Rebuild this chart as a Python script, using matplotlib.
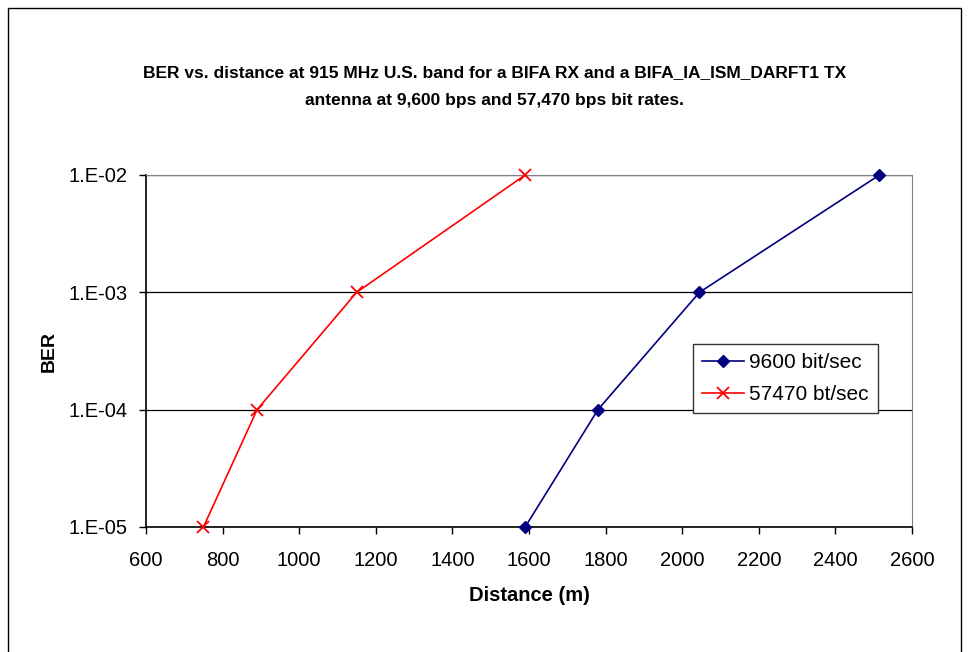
import matplotlib.pyplot as plt
from matplotlib.patches import Rectangle

# BER measurements vs. distance for the two bit rates
ber = [1e-5, 1e-4, 1e-3, 1e-2]
dist_9600 = [1590, 1780, 2045, 2515]
dist_57470 = [750, 890, 1150, 1590]

y_ticks = [1e-5, 1e-4, 1e-3, 1e-2]
y_labels = ['1.E-05', '1.E-04', '1.E-03', '1.E-02']
x_ticks = list(range(600, 2601, 200))

plt.rcParams['font.family'] = ['Liberation Sans', 'DejaVu Sans']

fig = plt.figure(figsize=(9.69, 6.52), dpi=100)
ax = fig.add_axes([146 / 969, 1 - 527 / 652, 766 / 969, 352 / 652])

# chart area frame
fig.patches.append(Rectangle((8 / 969, -0.05), 953 / 969, 1 - 8 / 652 + 0.05,
                             transform=fig.transFigure, fill=False,
                             edgecolor='black', linewidth=1.0))

ax.plot(dist_9600, ber, color='#000080', marker='D', markersize=6,
        linewidth=1.2, label='9600 bit/sec', clip_on=False, zorder=3)
ax.plot(dist_57470, ber, color='#ff0000', marker='x', markersize=8,
        markeredgewidth=1.3, linewidth=1.2, label='57470 bt/sec',
        clip_on=False, zorder=3)

ax.set_yscale('log')
ax.set_ylim(1e-5, 1e-2)
ax.set_xlim(600, 2600)
ax.set_yticks(y_ticks)
ax.set_yticklabels(y_labels)
ax.yaxis.set_minor_locator(plt.NullLocator())
ax.set_xticks(x_ticks)
ax.tick_params(axis='both', labelsize=14.5, direction='out', length=5,
               width=1, color='black')
ax.tick_params(axis='x', pad=12)
ax.tick_params(axis='y', pad=8)
ax.grid(True, axis='y', color='black', linewidth=0.9)
ax.set_axisbelow(True)

for side in ['top', 'right']:
    ax.spines[side].set_color('#808080')
for side in ['left', 'bottom']:
    ax.spines[side].set_color('black')
    ax.spines[side].set_linewidth(1.2)

ax.set_xlabel('Distance (m)', fontsize=14.5, fontweight='bold', labelpad=12)
ax.set_ylabel('BER', fontsize=14, fontweight='bold', labelpad=8)

fig.text(0.51, 1 - 73 / 652, 'BER vs. distance at 915 MHz U.S. band for a BIFA RX and a BIFA_IA_ISM_DARFT1 TX',
         ha='center', va='center', fontsize=12.5, fontweight='bold')
fig.text(0.51, 1 - 101 / 652, 'antenna at 9,600 bps and 57,470 bps bit rates.',
         ha='center', va='center', fontsize=12.5, fontweight='bold')

leg = ax.legend(loc='upper left', bbox_to_anchor=((693 - 146) / 766, (527 - 344) / 352),
                fontsize=15, frameon=True, fancybox=False, framealpha=1,
                edgecolor='#333333', borderpad=0.45, handlelength=2.0,
                handletextpad=0.25, labelspacing=0.6, borderaxespad=0)
leg.get_frame().set_linewidth(1.0)

plt.savefig('out.png', dpi=100)
